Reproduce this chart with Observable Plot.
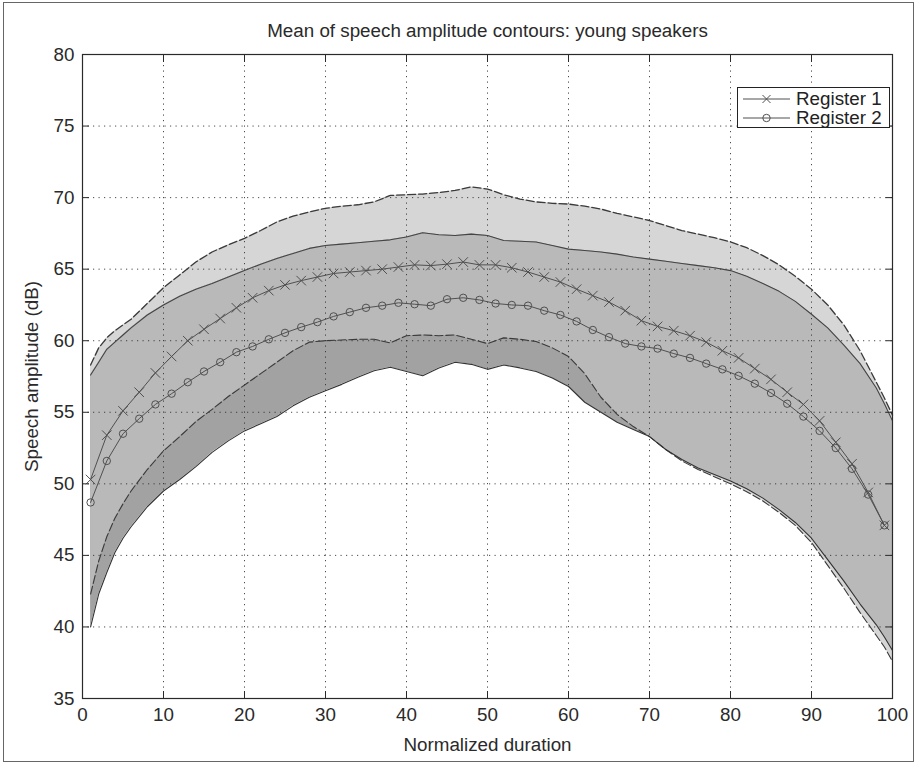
<!DOCTYPE html>
<html>
<head>
<meta charset="utf-8">
<script src="https://cdn.jsdelivr.net/npm/d3@7"></script>
<script src="https://cdn.jsdelivr.net/npm/@observablehq/plot@0.6"></script>
<style>
  html, body { margin: 0; padding: 0; background: #fff; }
  #wrap { position: relative; width: 918px; height: 766px; font-family: "Liberation Sans", Arial, sans-serif; color: #222; }
  #border { position: absolute; left: 3px; top: 2px; width: 909px; height: 758px; border: 1px solid #666; pointer-events: none; }
  #legend { position: absolute; left: 737px; top: 87px; width: 151px; height: 39px; border: 1px solid #222; background: #fff; font-size: 18.8px; }
  #legend .row { position: absolute; left: 0; height: 19px; display: flex; align-items: center; white-space: nowrap; }
  #legend svg { margin-left: 5px; margin-right: 6px; }
</style>
</head>
<body>
<div id="wrap">
  <div id="chart"></div>
  <div id="legend"></div>
  <div id="border"></div>
</div>
<script>
// ---- data ----
const title = "Mean of speech amplitude contours: young speakers";
const xLabel = "Normalized duration";
const yLabel = "Speech amplitude (dB)";
const seriesNames = ["Register 1", "Register 2"];
const xTicks = [0, 10, 20, 30, 40, 50, 60, 70, 80, 90, 100];
const yTicks = [35, 40, 45, 50, 55, 60, 65, 70, 75, 80];

// mean contours (markers every 2 units)
const xMean = [1,3,5,7,9,11,13,15,17,19,21,23,25,27,29,31,33,35,37,39,41,43,45,47,49,51,53,55,57,59,61,63,65,67,69,71,73,75,77,79,81,83,85,87,89,91,93,95,97,99];
const register1 = [50.3,53.4,55.1,56.4,57.75,58.9,60.0,60.8,61.55,62.3,63.0,63.5,63.9,64.2,64.45,64.7,64.8,64.9,65.0,65.15,65.3,65.25,65.35,65.5,65.3,65.3,65.1,64.8,64.45,64.1,63.6,63.15,62.7,62.1,61.4,61.0,60.7,60.35,59.9,59.3,58.8,58.05,57.3,56.4,55.55,54.4,52.9,51.4,49.4,47.1];
const register2 = [48.7,51.6,53.5,54.55,55.55,56.3,57.1,57.85,58.5,59.2,59.6,60.1,60.55,60.95,61.3,61.7,62.0,62.3,62.45,62.65,62.55,62.45,62.9,63.0,62.85,62.6,62.5,62.45,62.1,61.8,61.35,60.75,60.25,59.8,59.6,59.45,59.1,58.8,58.4,58.0,57.55,57.0,56.35,55.6,54.7,53.7,52.5,51.05,49.25,47.1];

// spread bands
const xBand = [1,2,3,4,5,6,8,10,12,14,16,18,20,22,24,26,28,30,32,34,36,38,40,42,44,46,48,50,52,54,56,58,60,62,64,66,68,70,72,74,76,78,80,82,84,86,88,90,92,94,96,98,99,100];
const band1Upper = [58.3,59.5,60.2,60.7,61.1,61.5,62.6,63.7,64.6,65.5,66.2,66.7,67.15,67.7,68.3,68.7,69.0,69.25,69.4,69.5,69.7,70.15,70.2,70.25,70.35,70.5,70.75,70.6,70.2,69.9,69.7,69.6,69.55,69.4,69.2,68.9,68.65,68.4,68.05,67.7,67.45,67.2,66.9,66.5,65.95,65.3,64.5,63.6,62.5,61.1,59.3,57.1,56.0,54.8];
const band1Lower = [42.3,44.6,46.3,47.6,48.6,49.5,51.0,52.3,53.3,54.35,55.2,56.1,56.9,57.7,58.5,59.3,59.9,60.0,60.05,60.1,60.1,59.85,60.35,60.4,60.35,60.4,60.1,59.8,60.2,60.1,59.95,59.5,58.9,57.7,56.05,54.85,54.0,53.3,52.4,51.6,51.0,50.5,50.0,49.45,48.8,48.0,47.1,45.9,44.3,42.7,41.0,39.4,38.6,37.6];
const band2Upper = [57.6,58.5,59.4,59.9,60.4,60.9,61.8,62.5,63.1,63.6,64.0,64.45,64.9,65.35,65.75,66.1,66.45,66.65,66.75,66.85,66.95,67.05,67.25,67.55,67.4,67.35,67.45,67.35,67.0,66.95,66.9,66.65,66.4,66.3,66.2,66.05,65.85,65.7,65.55,65.4,65.25,65.1,64.9,64.5,64.0,63.45,62.75,61.85,60.9,59.7,58.4,56.7,55.6,54.4];
const band2Lower = [40.0,42.3,43.8,45.2,46.2,47.0,48.4,49.5,50.3,51.2,52.2,53.0,53.7,54.2,54.7,55.45,56.05,56.5,56.95,57.45,57.9,58.15,57.85,57.55,58.1,58.5,58.35,58.0,58.3,58.1,57.85,57.4,56.8,55.7,55.0,54.3,53.8,53.3,52.4,51.7,51.1,50.65,50.2,49.65,49.0,48.2,47.3,46.2,44.7,43.2,41.6,40.15,39.3,38.35];

// ---- tables built from the arrays ----
const bands = xBand.map((x, i) => ({
  x, aUp: band1Upper[i], aLo: band1Lower[i], bUp: band2Upper[i], bLo: band2Lower[i]
}));
const r1 = xMean.map((x, i) => ({x, y: register1[i]}));
const r2 = xMean.map((x, i) => ({x, y: register2[i]}));

const ink = "#2a2a2a";
const fs = 18.8;
const chart = Plot.plot({
  width: 918,
  height: 766,
  marginLeft: 82,
  marginRight: 26,
  marginTop: 54,
  marginBottom: 68,
  style: {fontFamily: "'Liberation Sans', Arial, sans-serif", fontSize: fs + "px", color: ink, background: "#fff", overflow: "visible"},
  x: {domain: [0, 100]},
  y: {domain: [35, 80]},
  marks: [
    Plot.areaY(bands, {x: "x", y1: "aLo", y2: "aUp", fill: "#d6d6d6"}),
    Plot.areaY(bands, {x: "x", y1: "bLo", y2: "bUp", fill: "#a2a2a2"}),
    Plot.areaY(bands, {x: "x", y1: d => Math.max(d.aLo, d.bLo), y2: d => Math.min(d.aUp, d.bUp), fill: "#b9b9b9"}),
    Plot.gridX(xTicks, {stroke: ink, strokeOpacity: 0.85, strokeDasharray: "1.2,4.3"}),
    Plot.gridY(yTicks, {stroke: ink, strokeOpacity: 0.85, strokeDasharray: "1.2,4.3"}),
    Plot.lineY(bands, {x: "x", y: "aUp", stroke: "#3a3a3a", strokeWidth: 1.3, strokeDasharray: "8,3"}),
    Plot.lineY(bands, {x: "x", y: "aLo", stroke: "#3a3a3a", strokeWidth: 1.1, strokeDasharray: "8,3"}),
    Plot.lineY(bands, {x: "x", y: "bUp", stroke: "#444", strokeWidth: 1.1}),
    Plot.lineY(bands, {x: "x", y: "bLo", stroke: "#333", strokeWidth: 1.1}),
    Plot.lineY(r1, {x: "x", y: "y", stroke: "#505050", strokeWidth: 1}),
    Plot.dot(r1, {x: "x", y: "y", symbol: "times", r: 4.4, stroke: "#505050", strokeWidth: 1}),
    Plot.lineY(r2, {x: "x", y: "y", stroke: "#505050", strokeWidth: 1}),
    Plot.dot(r2, {x: "x", y: "y", symbol: "circle", r: 3.7, stroke: "#505050", fill: "none", strokeWidth: 1}),
    Plot.frame({stroke: ink, strokeWidth: 1.2}),
    Plot.axisX(xTicks, {anchor: "bottom", tickSize: -7, tickPadding: 16, label: null, fontSize: fs}),
    Plot.axisX(xTicks, {anchor: "top", tickSize: -7, tickFormat: () => "", label: null}),
    Plot.axisY(yTicks, {anchor: "left", tickSize: -7, tickPadding: 15, label: null, fontSize: fs}),
    Plot.axisY(yTicks, {anchor: "right", tickSize: -7, tickFormat: () => "", label: null}),
    Plot.text([title], {frameAnchor: "top", dy: -24, lineAnchor: "middle", textAnchor: "middle", fontSize: fs, fill: ink}),
    Plot.text([xLabel], {frameAnchor: "bottom", dy: 46, lineAnchor: "middle", textAnchor: "middle", fontSize: fs, fill: ink}),
    Plot.text([yLabel], {frameAnchor: "left", dx: -51, rotate: -90, lineAnchor: "middle", textAnchor: "middle", fontSize: fs, fill: ink})
  ]
});
document.getElementById("chart").appendChild(chart);

// legend
const legend = document.getElementById("legend");
seriesNames.forEach((name, i) => {
  const row = document.createElement("div");
  row.className = "row";
  row.style.top = (i === 0 ? 1 : 20) + "px";
  const sym = i === 0
    ? '<path d="M19.5,-4L27.5,4M19.5,4L27.5,-4" stroke="#505050" fill="none"/>'
    : '<circle cx="23.5" cy="0" r="3.7" stroke="#505050" fill="none"/>';
  row.innerHTML = `<svg width="47" height="10" viewBox="0 -5 47 10"><line x1="0" x2="47" y1="0" y2="0" stroke="#505050"/>${sym}</svg><span>${name}</span>`;
  legend.appendChild(row);
});
</script>
</body>
</html>
